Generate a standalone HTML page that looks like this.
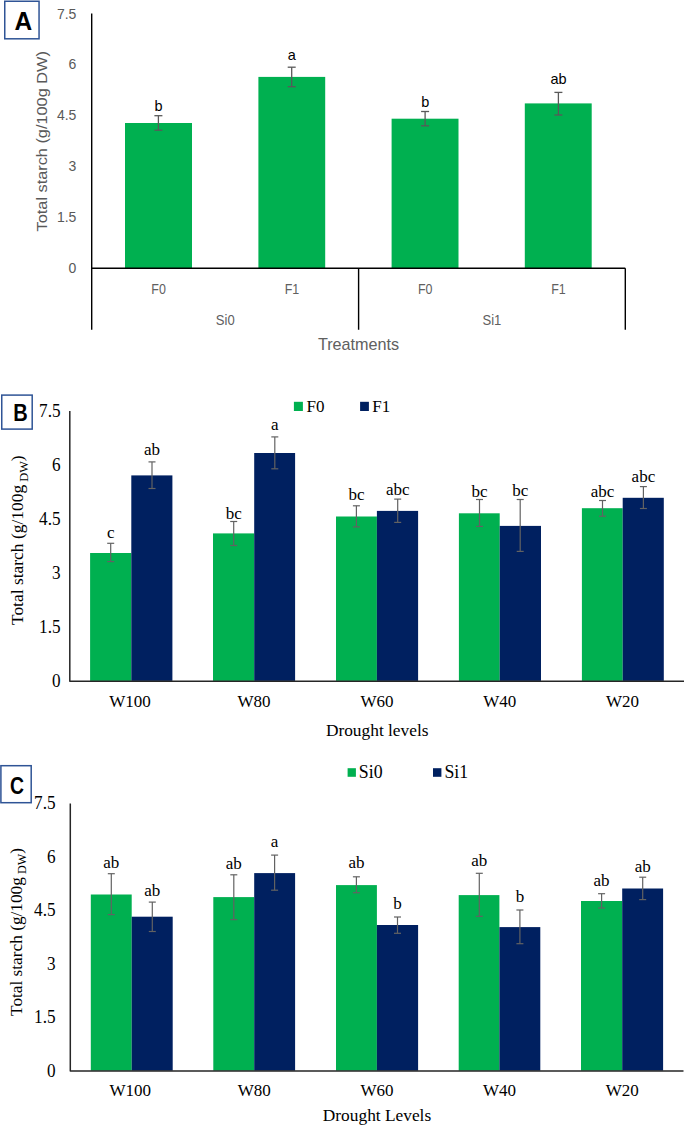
<!DOCTYPE html>
<html><head><meta charset="utf-8"><title>Total starch charts</title>
<style>
html,body{margin:0;padding:0;background:#fff;}
body{width:685px;height:1126px;overflow:hidden;font-family:"Liberation Sans", sans-serif;}
svg{display:block;}
</style></head>
<body>
<svg width="685" height="1126" viewBox="0 0 685 1126">
<rect x="0" y="0" width="685" height="1126" fill="#fff"/>
<rect x="4.75" y="1.25" width="34.3" height="37.55" fill="#fff" stroke="#2F5496" stroke-width="1.5"/>
<text transform="translate(23.30,29.80) scale(0.95,1)" font-family='"Liberation Sans", sans-serif' font-size="25.8" fill="#000" text-anchor="middle" font-weight="bold" >A</text>
<rect x="125.00" y="123.00" width="67.00" height="145.00" fill="#00B050"/>
<rect x="258.40" y="76.90" width="66.80" height="191.10" fill="#00B050"/>
<rect x="391.60" y="118.70" width="66.90" height="149.30" fill="#00B050"/>
<rect x="524.80" y="103.40" width="66.90" height="164.60" fill="#00B050"/>
<line x1="158.40" y1="115.70" x2="158.40" y2="130.20" stroke="#595959" stroke-width="1.3"/>
<line x1="154.40" y1="115.70" x2="162.40" y2="115.70" stroke="#595959" stroke-width="1.3"/>
<line x1="154.40" y1="130.20" x2="162.40" y2="130.20" stroke="#595959" stroke-width="1.3"/>
<line x1="291.70" y1="67.20" x2="291.70" y2="86.70" stroke="#595959" stroke-width="1.3"/>
<line x1="287.70" y1="67.20" x2="295.70" y2="67.20" stroke="#595959" stroke-width="1.3"/>
<line x1="287.70" y1="86.70" x2="295.70" y2="86.70" stroke="#595959" stroke-width="1.3"/>
<line x1="425.10" y1="111.50" x2="425.10" y2="125.80" stroke="#595959" stroke-width="1.3"/>
<line x1="421.10" y1="111.50" x2="429.10" y2="111.50" stroke="#595959" stroke-width="1.3"/>
<line x1="421.10" y1="125.80" x2="429.10" y2="125.80" stroke="#595959" stroke-width="1.3"/>
<line x1="558.40" y1="92.40" x2="558.40" y2="115.00" stroke="#595959" stroke-width="1.3"/>
<line x1="554.40" y1="92.40" x2="562.40" y2="92.40" stroke="#595959" stroke-width="1.3"/>
<line x1="554.40" y1="115.00" x2="562.40" y2="115.00" stroke="#595959" stroke-width="1.3"/>
<text x="158.60" y="110.70" font-family='"Liberation Sans", sans-serif' font-size="14.5" fill="#000" text-anchor="middle" font-weight="normal" >b</text>
<text x="291.90" y="59.60" font-family='"Liberation Sans", sans-serif' font-size="14.5" fill="#000" text-anchor="middle" font-weight="normal" >a</text>
<text x="425.20" y="107.00" font-family='"Liberation Sans", sans-serif' font-size="14.5" fill="#000" text-anchor="middle" font-weight="normal" >b</text>
<text x="558.50" y="83.80" font-family='"Liberation Sans", sans-serif' font-size="14.5" fill="#000" text-anchor="middle" font-weight="normal" >ab</text>
<path d="M91.7,13.6 V329.8 M91.0,268.2 H625.3 M358.6,268.2 V329.8 M625.3,268.2 V329.8" stroke="#000" stroke-width="1.4" fill="none"/>
<text x="76.40" y="18.50" font-family='"Liberation Sans", sans-serif' font-size="14" fill="#595959" text-anchor="end" font-weight="normal" >7.5</text>
<text x="76.40" y="69.40" font-family='"Liberation Sans", sans-serif' font-size="14" fill="#595959" text-anchor="end" font-weight="normal" >6</text>
<text x="76.40" y="120.30" font-family='"Liberation Sans", sans-serif' font-size="14" fill="#595959" text-anchor="end" font-weight="normal" >4.5</text>
<text x="76.40" y="171.20" font-family='"Liberation Sans", sans-serif' font-size="14" fill="#595959" text-anchor="end" font-weight="normal" >3</text>
<text x="76.40" y="222.10" font-family='"Liberation Sans", sans-serif' font-size="14" fill="#595959" text-anchor="end" font-weight="normal" >1.5</text>
<text x="76.40" y="273.00" font-family='"Liberation Sans", sans-serif' font-size="14" fill="#595959" text-anchor="end" font-weight="normal" >0</text>
<text transform="translate(158.60,293.60) scale(0.82,1)" font-family='"Liberation Sans", sans-serif' font-size="15.2" fill="#606060" text-anchor="middle" font-weight="normal" >F0</text>
<text transform="translate(291.90,293.60) scale(0.82,1)" font-family='"Liberation Sans", sans-serif' font-size="15.2" fill="#606060" text-anchor="middle" font-weight="normal" >F1</text>
<text transform="translate(425.20,293.60) scale(0.82,1)" font-family='"Liberation Sans", sans-serif' font-size="15.2" fill="#606060" text-anchor="middle" font-weight="normal" >F0</text>
<text transform="translate(558.50,293.60) scale(0.82,1)" font-family='"Liberation Sans", sans-serif' font-size="15.2" fill="#606060" text-anchor="middle" font-weight="normal" >F1</text>
<text transform="translate(225.20,324.90) scale(0.9,1)" font-family='"Liberation Sans", sans-serif' font-size="14.5" fill="#606060" text-anchor="middle" font-weight="normal" >Si0</text>
<text transform="translate(491.90,324.90) scale(0.9,1)" font-family='"Liberation Sans", sans-serif' font-size="14.5" fill="#606060" text-anchor="middle" font-weight="normal" >Si1</text>
<text transform="translate(358.50,349.60) scale(1.025,1)" font-family='"Liberation Sans", sans-serif' font-size="15.8" fill="#606060" text-anchor="middle" font-weight="normal" >Treatments</text>
<text transform="translate(46.6,141.3) rotate(-90) scale(1.087,1)" font-family='"Liberation Sans", sans-serif' font-size="15" fill="#595959" text-anchor="middle">Total starch (g/100g DW)</text>
<rect x="1.75" y="395.1" width="30.45" height="34.0" fill="#fff" stroke="#2F5496" stroke-width="1.5"/>
<text transform="translate(20.45,421.00) scale(0.86,1)" font-family='"Liberation Sans", sans-serif' font-size="23.3" fill="#000" text-anchor="middle" font-weight="bold" >B</text>
<rect x="90.10" y="553.00" width="41.20" height="127.90" fill="#00B050"/>
<rect x="131.30" y="475.40" width="41.10" height="205.50" fill="#002060"/>
<rect x="213.00" y="533.40" width="41.20" height="147.50" fill="#00B050"/>
<rect x="254.20" y="453.00" width="40.90" height="227.90" fill="#002060"/>
<rect x="336.00" y="516.50" width="40.90" height="164.40" fill="#00B050"/>
<rect x="376.90" y="510.90" width="41.20" height="170.00" fill="#002060"/>
<rect x="458.90" y="513.30" width="40.80" height="167.60" fill="#00B050"/>
<rect x="499.70" y="525.90" width="41.30" height="155.00" fill="#002060"/>
<rect x="581.90" y="508.20" width="40.80" height="172.70" fill="#00B050"/>
<rect x="622.70" y="497.80" width="41.10" height="183.10" fill="#002060"/>
<line x1="110.70" y1="543.30" x2="110.70" y2="561.60" stroke="#626262" stroke-width="1.2"/>
<line x1="107.20" y1="543.30" x2="114.20" y2="543.30" stroke="#626262" stroke-width="1.2"/>
<line x1="107.20" y1="561.60" x2="114.20" y2="561.60" stroke="#626262" stroke-width="1.2"/>
<line x1="152.00" y1="461.90" x2="152.00" y2="488.50" stroke="#626262" stroke-width="1.2"/>
<line x1="148.50" y1="461.90" x2="155.50" y2="461.90" stroke="#626262" stroke-width="1.2"/>
<line x1="148.50" y1="488.50" x2="155.50" y2="488.50" stroke="#626262" stroke-width="1.2"/>
<line x1="233.70" y1="521.50" x2="233.70" y2="545.50" stroke="#626262" stroke-width="1.2"/>
<line x1="230.20" y1="521.50" x2="237.20" y2="521.50" stroke="#626262" stroke-width="1.2"/>
<line x1="230.20" y1="545.50" x2="237.20" y2="545.50" stroke="#626262" stroke-width="1.2"/>
<line x1="274.80" y1="436.90" x2="274.80" y2="468.80" stroke="#626262" stroke-width="1.2"/>
<line x1="271.30" y1="436.90" x2="278.30" y2="436.90" stroke="#626262" stroke-width="1.2"/>
<line x1="271.30" y1="468.80" x2="278.30" y2="468.80" stroke="#626262" stroke-width="1.2"/>
<line x1="356.40" y1="505.80" x2="356.40" y2="526.90" stroke="#626262" stroke-width="1.2"/>
<line x1="352.90" y1="505.80" x2="359.90" y2="505.80" stroke="#626262" stroke-width="1.2"/>
<line x1="352.90" y1="526.90" x2="359.90" y2="526.90" stroke="#626262" stroke-width="1.2"/>
<line x1="397.70" y1="499.10" x2="397.70" y2="522.40" stroke="#626262" stroke-width="1.2"/>
<line x1="394.20" y1="499.10" x2="401.20" y2="499.10" stroke="#626262" stroke-width="1.2"/>
<line x1="394.20" y1="522.40" x2="401.20" y2="522.40" stroke="#626262" stroke-width="1.2"/>
<line x1="479.50" y1="499.50" x2="479.50" y2="526.40" stroke="#626262" stroke-width="1.2"/>
<line x1="476.00" y1="499.50" x2="483.00" y2="499.50" stroke="#626262" stroke-width="1.2"/>
<line x1="476.00" y1="526.40" x2="483.00" y2="526.40" stroke="#626262" stroke-width="1.2"/>
<line x1="520.20" y1="499.50" x2="520.20" y2="551.40" stroke="#626262" stroke-width="1.2"/>
<line x1="516.70" y1="499.50" x2="523.70" y2="499.50" stroke="#626262" stroke-width="1.2"/>
<line x1="516.70" y1="551.40" x2="523.70" y2="551.40" stroke="#626262" stroke-width="1.2"/>
<line x1="602.50" y1="500.50" x2="602.50" y2="516.20" stroke="#626262" stroke-width="1.2"/>
<line x1="599.00" y1="500.50" x2="606.00" y2="500.50" stroke="#626262" stroke-width="1.2"/>
<line x1="599.00" y1="516.20" x2="606.00" y2="516.20" stroke="#626262" stroke-width="1.2"/>
<line x1="643.40" y1="486.60" x2="643.40" y2="508.50" stroke="#626262" stroke-width="1.2"/>
<line x1="639.90" y1="486.60" x2="646.90" y2="486.60" stroke="#626262" stroke-width="1.2"/>
<line x1="639.90" y1="508.50" x2="646.90" y2="508.50" stroke="#626262" stroke-width="1.2"/>
<text x="110.70" y="537.80" font-family='"Liberation Serif", serif' font-size="17" fill="#000" text-anchor="middle" font-weight="normal" >c</text>
<text x="152.00" y="454.60" font-family='"Liberation Serif", serif' font-size="17" fill="#000" text-anchor="middle" font-weight="normal" >ab</text>
<text x="233.70" y="518.70" font-family='"Liberation Serif", serif' font-size="17" fill="#000" text-anchor="middle" font-weight="normal" >bc</text>
<text x="274.80" y="430.40" font-family='"Liberation Serif", serif' font-size="17" fill="#000" text-anchor="middle" font-weight="normal" >a</text>
<text x="356.40" y="499.80" font-family='"Liberation Serif", serif' font-size="17" fill="#000" text-anchor="middle" font-weight="normal" >bc</text>
<text x="397.70" y="494.70" font-family='"Liberation Serif", serif' font-size="17" fill="#000" text-anchor="middle" font-weight="normal" >abc</text>
<text x="479.50" y="496.60" font-family='"Liberation Serif", serif' font-size="17" fill="#000" text-anchor="middle" font-weight="normal" >bc</text>
<text x="520.20" y="495.70" font-family='"Liberation Serif", serif' font-size="17" fill="#000" text-anchor="middle" font-weight="normal" >bc</text>
<text x="602.50" y="497.40" font-family='"Liberation Serif", serif' font-size="17" fill="#000" text-anchor="middle" font-weight="normal" >abc</text>
<text x="643.40" y="481.50" font-family='"Liberation Serif", serif' font-size="17" fill="#000" text-anchor="middle" font-weight="normal" >abc</text>
<path d="M69.8,411.0 V681.1999999999999 H684.0" stroke="#262626" stroke-width="1.5" fill="none" stroke-linejoin="round"/>
<text transform="translate(60.60,416.80) scale(0.93,1)" font-family='"Liberation Serif", serif' font-size="18.5" fill="#000" text-anchor="end" font-weight="normal" >7.5</text>
<text transform="translate(60.60,470.78) scale(0.93,1)" font-family='"Liberation Serif", serif' font-size="18.5" fill="#000" text-anchor="end" font-weight="normal" >6</text>
<text transform="translate(60.60,524.76) scale(0.93,1)" font-family='"Liberation Serif", serif' font-size="18.5" fill="#000" text-anchor="end" font-weight="normal" >4.5</text>
<text transform="translate(60.60,578.74) scale(0.93,1)" font-family='"Liberation Serif", serif' font-size="18.5" fill="#000" text-anchor="end" font-weight="normal" >3</text>
<text transform="translate(60.60,632.72) scale(0.93,1)" font-family='"Liberation Serif", serif' font-size="18.5" fill="#000" text-anchor="end" font-weight="normal" >1.5</text>
<text transform="translate(60.60,686.70) scale(0.93,1)" font-family='"Liberation Serif", serif' font-size="18.5" fill="#000" text-anchor="end" font-weight="normal" >0</text>
<text x="129.92" y="707.30" font-family='"Liberation Serif", serif' font-size="17" fill="#000" text-anchor="middle" font-weight="normal" >W100</text>
<text x="254.06" y="707.30" font-family='"Liberation Serif", serif' font-size="17" fill="#000" text-anchor="middle" font-weight="normal" >W80</text>
<text x="376.90" y="707.30" font-family='"Liberation Serif", serif' font-size="17" fill="#000" text-anchor="middle" font-weight="normal" >W60</text>
<text x="499.74" y="707.30" font-family='"Liberation Serif", serif' font-size="17" fill="#000" text-anchor="middle" font-weight="normal" >W40</text>
<text x="622.58" y="707.30" font-family='"Liberation Serif", serif' font-size="17" fill="#000" text-anchor="middle" font-weight="normal" >W20</text>
<rect x="293.90" y="401.80" width="9.00" height="9.20" fill="#00B050"/>
<rect x="360.10" y="401.80" width="8.80" height="9.20" fill="#002060"/>
<text x="306.50" y="411.60" font-family='"Liberation Serif", serif' font-size="17" fill="#000" text-anchor="start" font-weight="normal" >F0</text>
<text x="372.30" y="411.60" font-family='"Liberation Serif", serif' font-size="17" fill="#000" text-anchor="start" font-weight="normal" >F1</text>
<text x="377.20" y="736.20" font-family='"Liberation Serif", serif' font-size="17.35" fill="#000" text-anchor="middle" font-weight="normal" >Drought levels</text>
<text transform="translate(23.0,540.2) rotate(-90) scale(1.028,1)" font-family='"Liberation Serif", serif' font-size="17" fill="#000" text-anchor="middle">Total starch (g/100g<tspan font-size="12" dy="4.5"> DW</tspan><tspan dy="-4.5">)</tspan></text>
<rect x="0.9" y="765.7" width="30.3" height="37.0" fill="#fff" stroke="#2F5496" stroke-width="1.5"/>
<text transform="translate(16.90,794.10) scale(0.8,1)" font-family='"Liberation Sans", sans-serif' font-size="24.2" fill="#000" text-anchor="middle" font-weight="bold" >C</text>
<rect x="90.80" y="894.50" width="40.90" height="176.20" fill="#00B050"/>
<rect x="131.70" y="916.70" width="41.00" height="154.00" fill="#002060"/>
<rect x="213.30" y="897.10" width="40.90" height="173.60" fill="#00B050"/>
<rect x="254.20" y="873.10" width="40.90" height="197.60" fill="#002060"/>
<rect x="336.00" y="885.10" width="40.90" height="185.60" fill="#00B050"/>
<rect x="376.90" y="925.00" width="41.20" height="145.70" fill="#002060"/>
<rect x="458.70" y="895.10" width="40.70" height="175.60" fill="#00B050"/>
<rect x="499.40" y="927.10" width="40.90" height="143.60" fill="#002060"/>
<rect x="581.00" y="901.00" width="41.20" height="169.70" fill="#00B050"/>
<rect x="622.20" y="888.50" width="40.90" height="182.20" fill="#002060"/>
<line x1="111.30" y1="873.70" x2="111.30" y2="914.60" stroke="#626262" stroke-width="1.2"/>
<line x1="107.80" y1="873.70" x2="114.80" y2="873.70" stroke="#626262" stroke-width="1.2"/>
<line x1="107.80" y1="914.60" x2="114.80" y2="914.60" stroke="#626262" stroke-width="1.2"/>
<line x1="152.30" y1="902.10" x2="152.30" y2="931.50" stroke="#626262" stroke-width="1.2"/>
<line x1="148.80" y1="902.10" x2="155.80" y2="902.10" stroke="#626262" stroke-width="1.2"/>
<line x1="148.80" y1="931.50" x2="155.80" y2="931.50" stroke="#626262" stroke-width="1.2"/>
<line x1="233.80" y1="874.80" x2="233.80" y2="919.60" stroke="#626262" stroke-width="1.2"/>
<line x1="230.30" y1="874.80" x2="237.30" y2="874.80" stroke="#626262" stroke-width="1.2"/>
<line x1="230.30" y1="919.60" x2="237.30" y2="919.60" stroke="#626262" stroke-width="1.2"/>
<line x1="274.60" y1="855.10" x2="274.60" y2="890.20" stroke="#626262" stroke-width="1.2"/>
<line x1="271.10" y1="855.10" x2="278.10" y2="855.10" stroke="#626262" stroke-width="1.2"/>
<line x1="271.10" y1="890.20" x2="278.10" y2="890.20" stroke="#626262" stroke-width="1.2"/>
<line x1="356.40" y1="876.80" x2="356.40" y2="892.70" stroke="#626262" stroke-width="1.2"/>
<line x1="352.90" y1="876.80" x2="359.90" y2="876.80" stroke="#626262" stroke-width="1.2"/>
<line x1="352.90" y1="892.70" x2="359.90" y2="892.70" stroke="#626262" stroke-width="1.2"/>
<line x1="397.50" y1="917.00" x2="397.50" y2="933.30" stroke="#626262" stroke-width="1.2"/>
<line x1="394.00" y1="917.00" x2="401.00" y2="917.00" stroke="#626262" stroke-width="1.2"/>
<line x1="394.00" y1="933.30" x2="401.00" y2="933.30" stroke="#626262" stroke-width="1.2"/>
<line x1="479.30" y1="873.30" x2="479.30" y2="916.30" stroke="#626262" stroke-width="1.2"/>
<line x1="475.80" y1="873.30" x2="482.80" y2="873.30" stroke="#626262" stroke-width="1.2"/>
<line x1="475.80" y1="916.30" x2="482.80" y2="916.30" stroke="#626262" stroke-width="1.2"/>
<line x1="519.90" y1="910.00" x2="519.90" y2="943.70" stroke="#626262" stroke-width="1.2"/>
<line x1="516.40" y1="910.00" x2="523.40" y2="910.00" stroke="#626262" stroke-width="1.2"/>
<line x1="516.40" y1="943.70" x2="523.40" y2="943.70" stroke="#626262" stroke-width="1.2"/>
<line x1="601.60" y1="893.70" x2="601.60" y2="908.00" stroke="#626262" stroke-width="1.2"/>
<line x1="598.10" y1="893.70" x2="605.10" y2="893.70" stroke="#626262" stroke-width="1.2"/>
<line x1="598.10" y1="908.00" x2="605.10" y2="908.00" stroke="#626262" stroke-width="1.2"/>
<line x1="642.70" y1="877.20" x2="642.70" y2="899.60" stroke="#626262" stroke-width="1.2"/>
<line x1="639.20" y1="877.20" x2="646.20" y2="877.20" stroke="#626262" stroke-width="1.2"/>
<line x1="639.20" y1="899.60" x2="646.20" y2="899.60" stroke="#626262" stroke-width="1.2"/>
<text x="111.30" y="867.70" font-family='"Liberation Serif", serif' font-size="17" fill="#000" text-anchor="middle" font-weight="normal" >ab</text>
<text x="152.30" y="895.90" font-family='"Liberation Serif", serif' font-size="17" fill="#000" text-anchor="middle" font-weight="normal" >ab</text>
<text x="233.80" y="869.00" font-family='"Liberation Serif", serif' font-size="17" fill="#000" text-anchor="middle" font-weight="normal" >ab</text>
<text x="274.60" y="846.80" font-family='"Liberation Serif", serif' font-size="17" fill="#000" text-anchor="middle" font-weight="normal" >a</text>
<text x="356.40" y="868.40" font-family='"Liberation Serif", serif' font-size="17" fill="#000" text-anchor="middle" font-weight="normal" >ab</text>
<text x="397.50" y="909.30" font-family='"Liberation Serif", serif' font-size="17" fill="#000" text-anchor="middle" font-weight="normal" >b</text>
<text x="479.30" y="865.70" font-family='"Liberation Serif", serif' font-size="17" fill="#000" text-anchor="middle" font-weight="normal" >ab</text>
<text x="519.90" y="902.40" font-family='"Liberation Serif", serif' font-size="17" fill="#000" text-anchor="middle" font-weight="normal" >b</text>
<text x="601.60" y="885.80" font-family='"Liberation Serif", serif' font-size="17" fill="#000" text-anchor="middle" font-weight="normal" >ab</text>
<text x="642.70" y="871.60" font-family='"Liberation Serif", serif' font-size="17" fill="#000" text-anchor="middle" font-weight="normal" >ab</text>
<path d="M70.3,803.5 V1071.0 H683.5" stroke="#262626" stroke-width="1.5" fill="none" stroke-linejoin="round"/>
<text transform="translate(55.60,809.30) scale(0.93,1)" font-family='"Liberation Serif", serif' font-size="18.5" fill="#000" text-anchor="end" font-weight="normal" >7.5</text>
<text transform="translate(55.60,862.74) scale(0.93,1)" font-family='"Liberation Serif", serif' font-size="18.5" fill="#000" text-anchor="end" font-weight="normal" >6</text>
<text transform="translate(55.60,916.18) scale(0.93,1)" font-family='"Liberation Serif", serif' font-size="18.5" fill="#000" text-anchor="end" font-weight="normal" >4.5</text>
<text transform="translate(55.60,969.62) scale(0.93,1)" font-family='"Liberation Serif", serif' font-size="18.5" fill="#000" text-anchor="end" font-weight="normal" >3</text>
<text transform="translate(55.60,1023.06) scale(0.93,1)" font-family='"Liberation Serif", serif' font-size="18.5" fill="#000" text-anchor="end" font-weight="normal" >1.5</text>
<text transform="translate(55.60,1076.50) scale(0.93,1)" font-family='"Liberation Serif", serif' font-size="18.5" fill="#000" text-anchor="end" font-weight="normal" >0</text>
<text x="130.32" y="1096.20" font-family='"Liberation Serif", serif' font-size="17" fill="#000" text-anchor="middle" font-weight="normal" >W100</text>
<text x="254.26" y="1096.20" font-family='"Liberation Serif", serif' font-size="17" fill="#000" text-anchor="middle" font-weight="normal" >W80</text>
<text x="376.90" y="1096.20" font-family='"Liberation Serif", serif' font-size="17" fill="#000" text-anchor="middle" font-weight="normal" >W60</text>
<text x="499.54" y="1096.20" font-family='"Liberation Serif", serif' font-size="17" fill="#000" text-anchor="middle" font-weight="normal" >W40</text>
<text x="622.18" y="1096.20" font-family='"Liberation Serif", serif' font-size="17" fill="#000" text-anchor="middle" font-weight="normal" >W20</text>
<rect x="347.60" y="768.20" width="8.30" height="8.60" fill="#00B050"/>
<rect x="433.00" y="768.20" width="8.40" height="8.60" fill="#002060"/>
<text x="358.80" y="778.10" font-family='"Liberation Serif", serif' font-size="17.8" fill="#000" text-anchor="start" font-weight="normal" >Si0</text>
<text x="444.40" y="778.10" font-family='"Liberation Serif", serif' font-size="17.8" fill="#000" text-anchor="start" font-weight="normal" >Si1</text>
<text x="377.00" y="1120.90" font-family='"Liberation Serif", serif' font-size="17.35" fill="#000" text-anchor="middle" font-weight="normal" >Drought Levels</text>
<text transform="translate(21.7,932.0) rotate(-90) scale(1.016,1)" font-family='"Liberation Serif", serif' font-size="17" fill="#000" text-anchor="middle">Total starch (g/100g<tspan font-size="12" dy="4.5"> DW</tspan><tspan dy="-4.5">)</tspan></text>
</svg>
</body></html>
